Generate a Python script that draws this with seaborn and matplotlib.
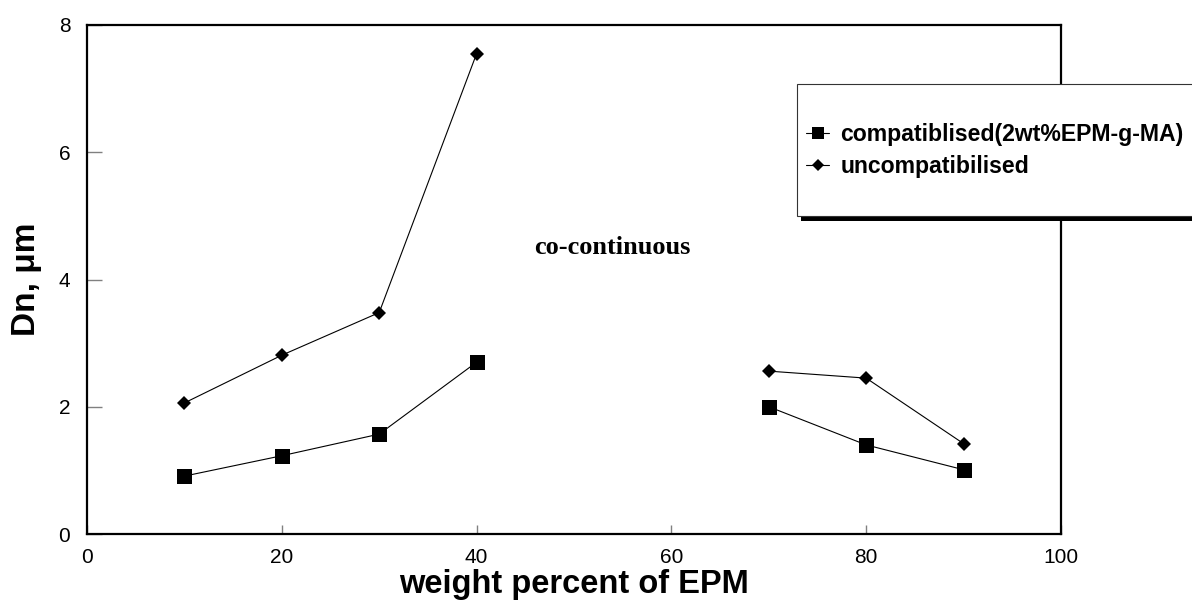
import numpy as np
import pandas as pd
import seaborn as sns
import matplotlib
matplotlib.use("Agg")
import matplotlib.pyplot as plt
from matplotlib import patches

# ---- data ----
epm_wt = [10, 20, 30, 40, 70, 80, 90]
segment = ["low", "low", "low", "low", "high", "high", "high"]
compatibilised = [0.91, 1.23, 1.57, 2.70, 2.00, 1.40, 1.01]
uncompatibilised = [2.06, 2.81, 3.48, 7.55, 2.56, 2.45, 1.42]
label_comp = "compatiblised(2wt%EPM-g-MA)"
label_uncomp = "uncompatibilised"
x_ticks = [0, 20, 40, 60, 80, 100]
y_ticks = [0, 2, 4, 6, 8]

sns.set_theme(style="white")
plt.rcParams["font.family"] = ["Liberation Sans", "DejaVu Sans"]
plt.rcParams["text.color"] = "black"

df = pd.DataFrame({
    "x": epm_wt * 2,
    "y": compatibilised + uncompatibilised,
    "seg": segment * 2,
    "series": [label_comp] * len(epm_wt) + [label_uncomp] * len(epm_wt),
})

W, H = 1192, 601
fig = plt.figure(figsize=(W / 100, H / 100), dpi=100)
ax = fig.add_axes([87 / W, (H - 534) / H, (1061 - 87) / W, (534 - 25) / H])

styles = {
    label_comp: dict(marker="s", markersize=10.8),
    label_uncomp: dict(marker="D", markersize=7.0),
}
handles = {}
for name, sty in styles.items():
    sub = df[df["series"] == name]
    for seg in ["low", "high"]:
        s = sub[sub["seg"] == seg]
        sns.lineplot(data=s, x="x", y="y", ax=ax, color="black", linewidth=0.8,
                     marker=sty["marker"], markersize=sty["markersize"],
                     markeredgewidth=0, markerfacecolor="black", legend=False,
                     estimator=None, sort=False)
    handles[name] = ax.get_lines()[-1]

ax.set_xlim(0, 100)
ax.set_ylim(0, 8)
ax.set_xticks(x_ticks)
ax.set_yticks(y_ticks)
ax.set_xticklabels([str(t) for t in x_ticks])
ax.set_yticklabels([str(t) for t in y_ticks])
ax.tick_params(axis="both", which="major", direction="in", color="#808080",
               width=1.0, labelsize=15, labelcolor="black",
               bottom=True, left=True, top=False, right=False)
ax.tick_params(axis="y", length=11, pad=12)
ax.tick_params(axis="x", length=6.5, pad=10)
for sp in ax.spines.values():
    sp.set_visible(True)
    sp.set_color("black")
    sp.set_linewidth(1.6)

ax.set_xlabel("weight percent of EPM", fontsize=23.5, fontweight="bold", color="black")
ax.set_ylabel("Dn, μm", fontsize=24, fontweight="bold", color="black")
ax.xaxis.set_label_coords(0.5, (534 - 569) / 509)
ax.yaxis.set_label_coords((42 - 87) / 974, 0.5)

ax.text(53.9, 4.51, "co-continuous", family=["Liberation Serif", "DejaVu Serif"],
        fontsize=19, fontweight="bold", ha="center", va="center", color="black")

# legend frame with drop shadow (extends beyond the figure, as in the reference)
box_l, box_t, box_b, box_r = 797, 84, 216, 1210
shadow = patches.Rectangle(((box_l + 4) / W, (H - box_b - 5) / H),
                           (box_r - box_l) / W, (box_b - box_t) / H,
                           transform=fig.transFigure, facecolor="black",
                           edgecolor="none", zorder=4.9)
rect = patches.Rectangle((box_l / W, (H - box_b) / H),
                         (box_r - box_l) / W, (box_b - box_t) / H,
                         transform=fig.transFigure, facecolor="white",
                         edgecolor="#333333", linewidth=0.8, zorder=5)
fig.add_artist(shadow)
fig.add_artist(rect)

leg = fig.legend([handles[label_comp], handles[label_uncomp]],
                 [label_comp, label_uncomp],
                 loc="center left", bbox_to_anchor=(806 / W, (H - 150.5) / H),
                 frameon=False, borderpad=0, borderaxespad=0,
                 handlelength=1.0, handletextpad=0.5, labelspacing=0.42,
                 labelcolor="black", markerscale=0.85,
                 prop={"family": ["Liberation Sans", "DejaVu Sans"],
                       "weight": "bold", "size": 16.6})
leg.set_zorder(6)

fig.savefig("out.png", dpi=100)
